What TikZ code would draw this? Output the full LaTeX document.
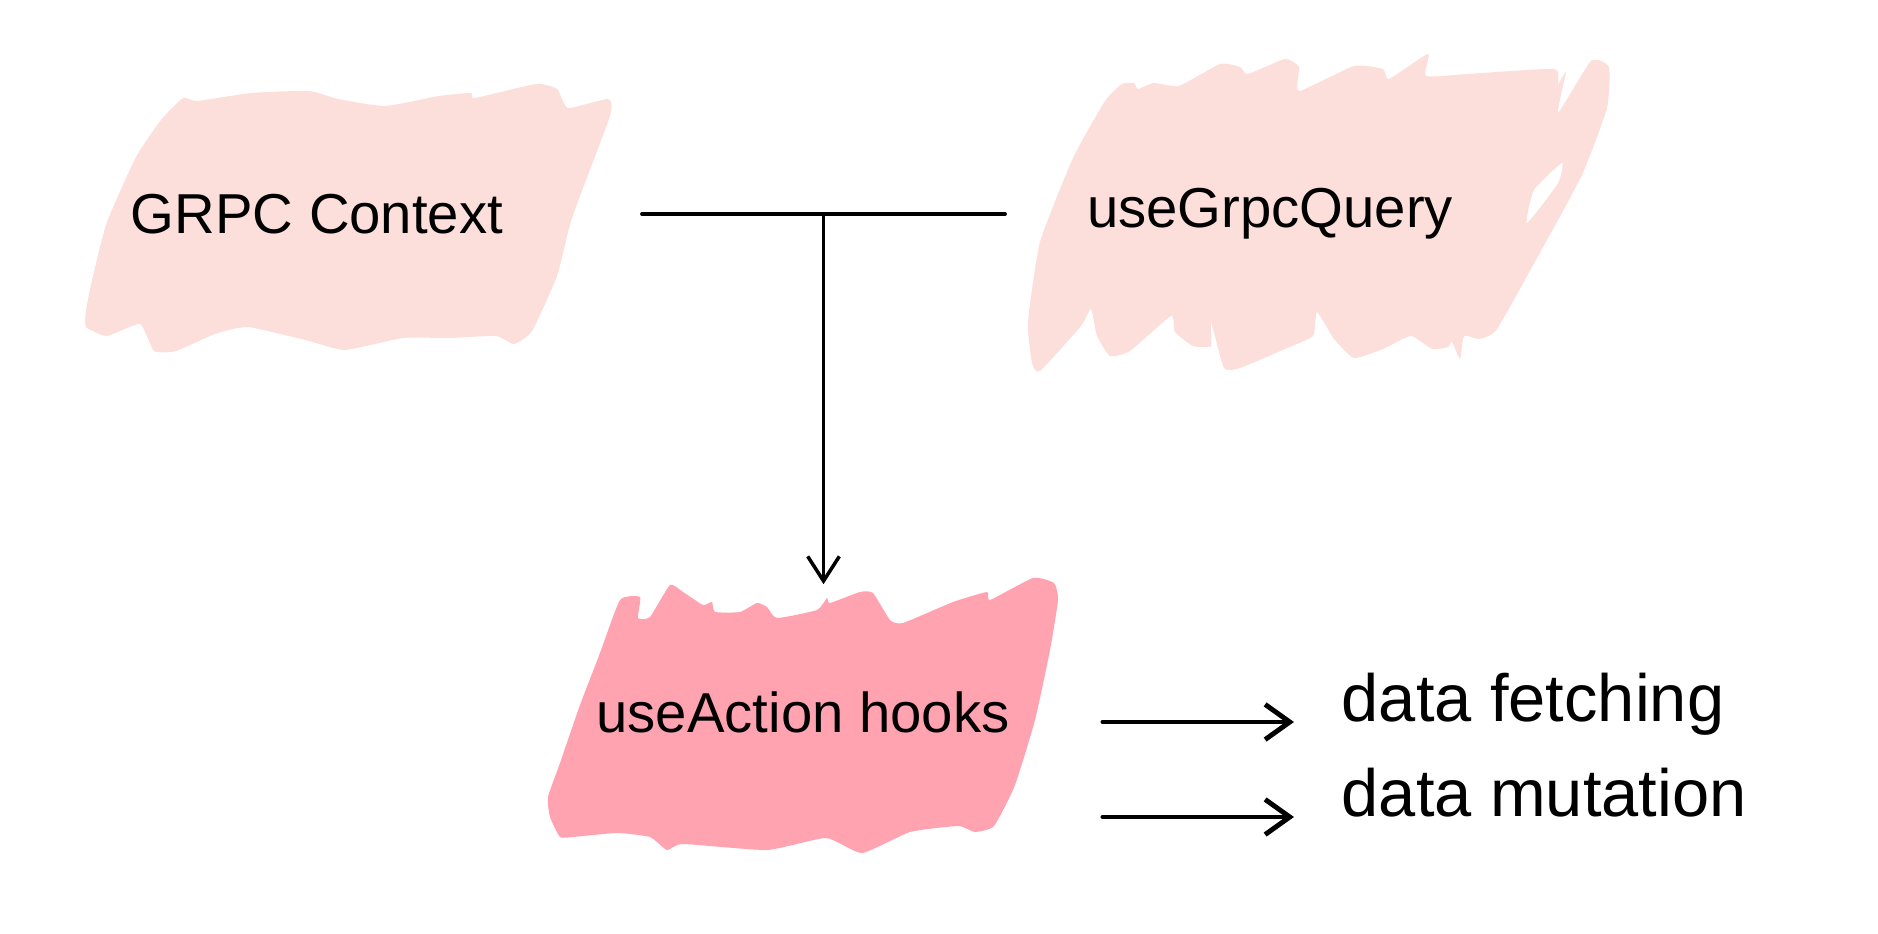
\documentclass[tikz,border=0pt]{standalone}
\usepackage{fontspec}
\setmainfont{Liberation Sans}
\usetikzlibrary{calc, positioning, arrows.meta}
\definecolor{softPink}{RGB}{252, 223, 218}
\definecolor{rosePink}{RGB}{255, 163, 177}

\begin{document}
\begin{tikzpicture}[
        x=0.01cm, y=-0.01cm,
        blobLight/.style={fill=softPink, draw=none},
        blobRose/.style={fill=rosePink, draw=none},
        boxText/.style={font=\fontsize{16}{19}\selectfont, inner sep=0pt},
        noteText/.style={font=\fontsize{19}{23}\selectfont, inner sep=0pt, anchor=base west},
        linkLine/.style={line width=1pt, black, line cap=round},
        handArrow/.style={line width=1.4pt, black, line cap=round, -{Straight Barb[length=7pt, width=10pt]}}
    ]
        \useasboundingbox (0,0) rectangle (1878,934);

        % painted patches behind the texts
        \fill[blobLight] plot[smooth cycle, tension=0.3] coordinates {
            (183,98) (197,101) (251,93) (309,91) (338,99) (385,106) (439,96) (471,93) (475,98)
            (536,84) (557,89) (568,108) (608,99) (610,116) (572,218) (557,276) (532,331) (514,344)
            (496,336) (449,338) (403,338) (345,350) (309,341) (248,327) (215,334) (176,351) (154,351)
            (140,324) (107,336) (86,327) (86,310) (93,276) (107,222) (136,157) (161,120)};
        \fill[blobLight] plot[smooth cycle, tension=0.3] coordinates {
            (1122,84) (1134,83) (1138,89) (1154,83) (1179,86) (1220,64) (1240,67) (1248,74) (1285,59)
            (1299,67) (1299,91) (1354,66) (1383,69) (1389,79) (1428,54) (1426,76) (1468,74) (1554,69)
            (1558,84) (1566,72) (1558,113) (1591,61) (1609,67) (1607,108) (1582,175) (1542,249)
            (1497,329) (1479,339) (1464,336) (1460,359) (1452,342) (1448,347) (1432,349) (1411,336)
            (1383,349) (1354,358) (1334,339) (1317,312) (1313,336) (1285,349) (1240,368) (1224,368)
            (1211,322) (1211,346) (1193,346) (1175,332) (1171,316) (1130,351) (1110,356) (1097,336)
            (1091,309) (1081,326) (1040,371) (1032,363) (1028,322) (1040,242) (1073,158) (1105,101)};
        \fill[white] plot[smooth cycle, tension=0.3] coordinates {
            (1527,223) (1534,190) (1562,163) (1558,183)};
        \fill[blobRose] plot[smooth cycle, tension=0.3] coordinates {
            (620,600) (640,597) (638,618) (650,617) (670,585) (683,592) (703,605) (712,602) (715,612)
            (740,612) (757,603) (767,607) (777,618) (817,610) (827,598) (830,603) (860,592) (873,593)
            (890,620) (903,623) (953,602) (987,592) (990,600) (1033,578) (1054,583) (1058,600)
            (1050,650) (1035,720) (1015,785) (994,826) (975,832) (958,826) (910,832) (862,853)
            (826,838) (767,850) (683,844) (667,850) (650,837) (617,833) (573,837) (560,837)
            (550,817) (548,797) (560,763) (580,705) (600,653)};

        \node[boxText, minimum width=6.48cm] (ctx) at (317,214) {GRPC Context};
        \node[boxText, minimum width=5.28cm] (query) at (1270,214) {useGrpcQuery};
        \node[boxText, minimum width=5.98cm, minimum height=2.54cm] (hooks) at (803,712) {useAction hooks};
        \node[noteText] (fetch) at (1341,722) {data fetching};
        \node[noteText] (mutate) at (1341,817) {data mutation};

        \coordinate (split) at ($(ctx.east)!0.5!(query.west)$);
        \draw[linkLine] (ctx.east) -- (query.west);
        \draw[linkLine, -{Straight Barb[length=7pt, width=9pt]}] (split) -- (split |- hooks.north);

        \draw[handArrow] (hooks.east |- fetch.base west) -- ([xshift=-0.47cm]fetch.base west);
        \draw[handArrow] (hooks.east |- mutate.base west) -- ([xshift=-0.47cm]mutate.base west);
    \end{tikzpicture}
\end{document}
